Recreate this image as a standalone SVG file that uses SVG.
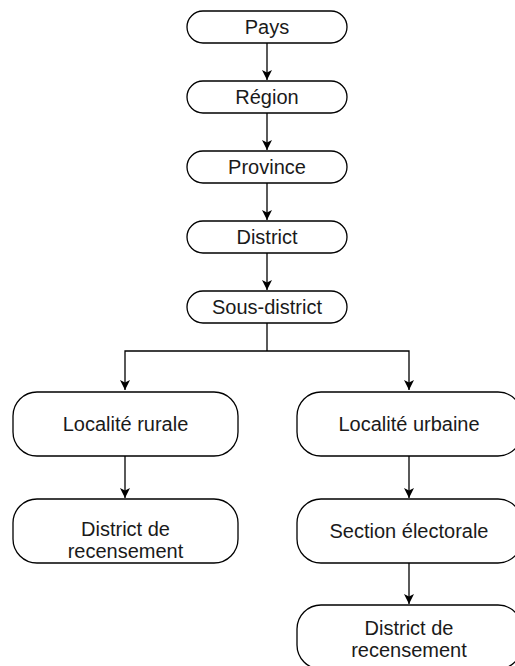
<svg xmlns="http://www.w3.org/2000/svg" width="515" height="666" viewBox="0 0 515 666">
<style>
.box{fill:#fff;stroke:#000;stroke-width:1.3}
.t{font-family:"Liberation Sans",Arial,sans-serif;font-size:20px;fill:#1a1a1a;text-anchor:middle}
.c{fill:none;stroke:#000;stroke-width:1.3}
</style>
<defs>
<marker id="ah" viewBox="0 0 10 12" refX="10" refY="6" markerWidth="10" markerHeight="12" markerUnits="userSpaceOnUse" orient="auto">
<path d="M0,1 L10,6 L0,11 L2.5,6 Z" fill="#000"/>
</marker>
</defs>
<rect width="515" height="666" fill="#fff"/>
<g id="connectors">
<line class="c" x1="267" y1="43" x2="267" y2="80" marker-end="url(#ah)"/>
<line class="c" x1="267" y1="113" x2="267" y2="150" marker-end="url(#ah)"/>
<line class="c" x1="267" y1="183" x2="267" y2="220" marker-end="url(#ah)"/>
<line class="c" x1="267" y1="253" x2="267" y2="290" marker-end="url(#ah)"/>
<polyline class="c" points="267,323 267,351"/>
<polyline class="c" points="267,351 125,351 125,390" marker-end="url(#ah)"/>
<polyline class="c" points="267,351 409,351 409,390" marker-end="url(#ah)"/>
<line class="c" x1="125" y1="456" x2="125" y2="498" marker-end="url(#ah)"/>
<line class="c" x1="409" y1="456" x2="409" y2="498" marker-end="url(#ah)"/>
<line class="c" x1="409" y1="563" x2="409" y2="604" marker-end="url(#ah)"/>
</g>
<g id="pays"><rect class="box" x="187" y="11" width="160" height="32" rx="16"/><text class="t" x="267" y="34">Pays</text></g>
<g id="region"><rect class="box" x="187" y="81" width="160" height="32" rx="16"/><text class="t" x="267" y="104">Région</text></g>
<g id="province"><rect class="box" x="187" y="151" width="160" height="32" rx="16"/><text class="t" x="267" y="174">Province</text></g>
<g id="district"><rect class="box" x="187" y="221" width="160" height="32" rx="16"/><text class="t" x="267" y="244">District</text></g>
<g id="sous-district"><rect class="box" x="187" y="291" width="160" height="32" rx="16"/><text class="t" x="267" y="314">Sous-district</text></g>
<g id="localite-rurale"><rect class="box" x="13" y="392" width="225" height="64" rx="24"/><text class="t" x="125.5" y="431">Localité rurale</text></g>
<g id="district-recensement-rural"><rect class="box" x="13" y="499" width="225" height="64" rx="24"/><text class="t" x="125.5" y="536">District de</text><text class="t" x="125.5" y="558">recensement</text></g>
<g id="localite-urbaine"><rect class="box" x="297" y="392" width="225" height="64" rx="24"/><text class="t" x="409" y="431">Localité urbaine</text></g>
<g id="section-electorale"><rect class="box" x="297" y="499" width="225" height="64" rx="24"/><text class="t" x="409" y="538">Section électorale</text></g>
<g id="district-recensement-urbain"><rect class="box" x="297" y="605" width="225" height="64" rx="24"/><text class="t" x="409" y="635">District de</text><text class="t" x="409" y="657">recensement</text></g>
</svg>
